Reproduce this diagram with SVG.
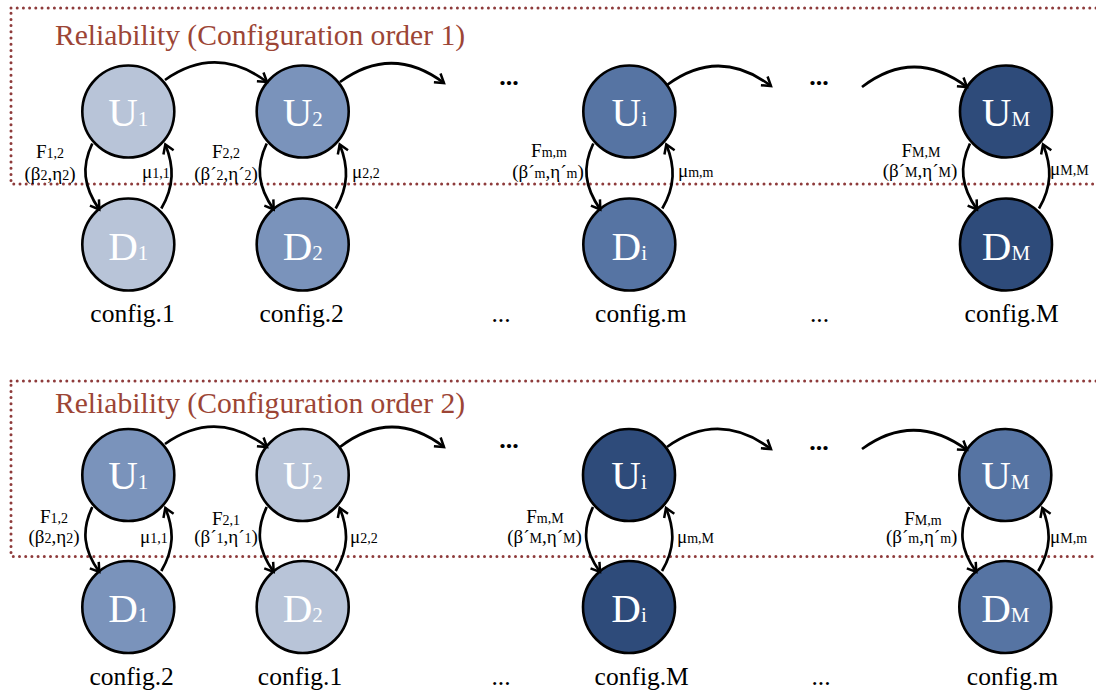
<svg xmlns="http://www.w3.org/2000/svg" width="1096" height="698" viewBox="0 0 1096 698">
<defs>
<style>
text{font-family:"Liberation Serif","Times New Roman",serif;}
.box{fill:none;stroke:#8E3B3B;stroke-width:3;stroke-linecap:round;stroke-dasharray:0 6.2;}
.title{font-size:29.6px;fill:#9C4535;}
.n circle{stroke:#000;stroke-width:2.6;}
.n text{font-size:41px;fill:#fff;text-anchor:middle;}
.n tspan{font-size:21px;}
.c1{fill:#B8C4D8;}
.c2{fill:#7A93BB;}
.c3{fill:#5674A3;}
.c4{fill:#2E4B7A;}
.lbl{font-size:19px;fill:#000;}
.lbl tspan.s{font-size:14px;}
.mid{text-anchor:middle;}
.cfg{font-size:25.5px;fill:#000;text-anchor:middle;}
.dots{font-size:26px;font-weight:bold;fill:#000;text-anchor:middle;}
.edge{fill:none;stroke:#000;stroke-width:2.7;marker-end:url(#ah);}
</style>
<marker id="ah" markerUnits="userSpaceOnUse" markerWidth="14" markerHeight="14" refX="0" refY="0" viewBox="-10 -7 12 14" orient="auto">
<path d="M-8.5,-5.5 L0,0 L-8.5,5.5" fill="none" stroke="#000" stroke-width="2.5" stroke-linejoin="miter"/>
</marker>
</defs>

<g id="section1">
<rect class="box" x="11" y="8" width="1110" height="176"/>
<text class="title" x="55" y="45">Reliability (Configuration order 1)</text>
</g>
<g id="section2">
<rect class="box" x="11" y="381" width="1110" height="175.5"/>
<text class="title" x="55" y="413">Reliability (Configuration order 2)</text>
</g>

<g id="t-U1" class="n"><circle class="c1" cx="128.3" cy="111.5" r="46"/><text x="128.3" y="125.5">U<tspan>1</tspan></text></g>
<g id="t-D1" class="n"><circle class="c1" cx="128.3" cy="244.5" r="46"/><text x="128.3" y="259.5">D<tspan>1</tspan></text></g>
<g id="t-U2" class="n"><circle class="c2" cx="302.7" cy="111.5" r="46"/><text x="302.7" y="125.5">U<tspan>2</tspan></text></g>
<g id="t-D2" class="n"><circle class="c2" cx="302.7" cy="244.5" r="46"/><text x="302.7" y="259.5">D<tspan>2</tspan></text></g>
<g id="t-Ui" class="n"><circle class="c3" cx="629.3" cy="111.5" r="46"/><text x="629.3" y="125.5">U<tspan>i</tspan></text></g>
<g id="t-Di" class="n"><circle class="c3" cx="629.3" cy="244.5" r="46"/><text x="629.3" y="259.5">D<tspan>i</tspan></text></g>
<g id="t-UM" class="n"><circle class="c4" cx="1006" cy="111.5" r="46"/><text x="1006" y="125.5">U<tspan>M</tspan></text></g>
<g id="t-DM" class="n"><circle class="c4" cx="1006" cy="244.5" r="46"/><text x="1006" y="259.5">D<tspan>M</tspan></text></g>

<g id="b-U1" class="n"><circle class="c2" cx="128.3" cy="475" r="46"/><text x="128.3" y="489">U<tspan>1</tspan></text></g>
<g id="b-D1" class="n"><circle class="c2" cx="128.3" cy="607" r="46"/><text x="128.3" y="622">D<tspan>1</tspan></text></g>
<g id="b-U2" class="n"><circle class="c1" cx="302.7" cy="475" r="46"/><text x="302.7" y="489">U<tspan>2</tspan></text></g>
<g id="b-D2" class="n"><circle class="c1" cx="302.7" cy="607" r="46"/><text x="302.7" y="622">D<tspan>2</tspan></text></g>
<g id="b-Ui" class="n"><circle class="c4" cx="629" cy="475" r="46"/><text x="629" y="489">U<tspan>i</tspan></text></g>
<g id="b-Di" class="n"><circle class="c4" cx="629" cy="607" r="46"/><text x="629" y="622">D<tspan>i</tspan></text></g>
<g id="b-UM" class="n"><circle class="c3" cx="1005.3" cy="475" r="46"/><text x="1005.3" y="489">U<tspan>M</tspan></text></g>
<g id="b-DM" class="n"><circle class="c3" cx="1005.3" cy="607" r="46"/><text x="1005.3" y="622">D<tspan>M</tspan></text></g>

<g id="connectors">
<path class="edge" d="M165,80 Q216,44 267,82"/>
<path class="edge" d="M340,82 Q392,44 444,83"/>
<path class="edge" d="M667,85 Q719,46.5 771,86"/>
<path class="edge" d="M862,87 Q914,47 967,87"/>
<path class="edge" d="M165,444 Q216,408 267,447"/>
<path class="edge" d="M340,447 Q392,407 444,447"/>
<path class="edge" d="M667,447 Q719,410 771,449"/>
<path class="edge" d="M862,449 Q914,411 967,450"/>
<path class="edge" d="M92.3,143.5 C81.3,166.5 83.3,186.5 99.3,209.5"/>
<path class="edge" d="M161.3,208.5 C174.3,186.5 174.3,166.5 165.3,144.5"/>
<path class="edge" d="M266.7,143.5 C255.7,166.5 257.7,186.5 273.7,209.5"/>
<path class="edge" d="M335.7,208.5 C348.7,186.5 348.7,166.5 339.7,144.5"/>
<path class="edge" d="M593.3,143.5 C582.3,166.5 584.3,186.5 600.3,209.5"/>
<path class="edge" d="M662.3,208.5 C675.3,186.5 675.3,166.5 666.3,144.5"/>
<path class="edge" d="M970,143.5 C959,166.5 961,186.5 977,209.5"/>
<path class="edge" d="M1039,208.5 C1052,186.5 1052,166.5 1043,144.5"/>
<path class="edge" d="M92.3,507 C81.3,530 83.3,550 99.3,572"/>
<path class="edge" d="M161.3,571 C174.3,549 174.3,530 165.3,508"/>
<path class="edge" d="M266.7,507 C255.7,530 257.7,550 273.7,572"/>
<path class="edge" d="M335.7,571 C348.7,549 348.7,530 339.7,508"/>
<path class="edge" d="M593,507 C582,530 584,550 600,572"/>
<path class="edge" d="M662,571 C675,549 675,530 666,508"/>
<path class="edge" d="M969.3,507 C958.3,530 960.3,550 976.3,572"/>
<path class="edge" d="M1038.3,571 C1051.3,549 1051.3,530 1042.3,508"/>
</g>

<g id="labels-top">
<text class="lbl mid" x="50" y="158">F<tspan class="s">1,2</tspan></text>
<text class="lbl mid" x="50" y="180">(β<tspan class="s">2</tspan>,η<tspan class="s">2</tspan>)</text>
<text class="lbl" x="142" y="178">μ<tspan class="s">1,1</tspan></text>
<text class="lbl mid" x="226" y="158">F<tspan class="s">2,2</tspan></text>
<text class="lbl mid" x="226" y="180">(β´<tspan class="s">2</tspan>,η´<tspan class="s">2</tspan>)</text>
<text class="lbl" x="352" y="178">μ<tspan class="s">2,2</tspan></text>
<text class="lbl mid" x="549" y="157">F<tspan class="s">m,m</tspan></text>
<text class="lbl mid" x="548" y="178">(β´<tspan class="s">m</tspan>,η´<tspan class="s">m</tspan>)</text>
<text class="lbl" x="678" y="177">μ<tspan class="s">m,m</tspan></text>
<text class="lbl mid" x="921" y="157">F<tspan class="s">M,M</tspan></text>
<text class="lbl mid" x="920" y="177">(β´<tspan class="s">M</tspan>,η´<tspan class="s">M</tspan>)</text>
<text class="lbl" x="1050" y="175">μ<tspan class="s">M,M</tspan></text>
</g>
<g id="labels-bottom">
<text class="lbl mid" x="54" y="523">F<tspan class="s">1,2</tspan></text>
<text class="lbl mid" x="54" y="543">(β<tspan class="s">2</tspan>,η<tspan class="s">2</tspan>)</text>
<text class="lbl" x="140" y="543">μ<tspan class="s">1,1</tspan></text>
<text class="lbl mid" x="226" y="525">F<tspan class="s">2,1</tspan></text>
<text class="lbl mid" x="226" y="543">(β´<tspan class="s">1</tspan>,η´<tspan class="s">1</tspan>)</text>
<text class="lbl" x="350" y="543">μ<tspan class="s">2,2</tspan></text>
<text class="lbl mid" x="545" y="523">F<tspan class="s">m,M</tspan></text>
<text class="lbl mid" x="544.5" y="543">(β´<tspan class="s">M</tspan>,η´<tspan class="s">M</tspan>)</text>
<text class="lbl" x="677" y="543">μ<tspan class="s">m,M</tspan></text>
<text class="lbl mid" x="923" y="525">F<tspan class="s">M,m</tspan></text>
<text class="lbl mid" x="921.7" y="543">(β´<tspan class="s">m</tspan>,η´<tspan class="s">m</tspan>)</text>
<text class="lbl" x="1050" y="543">μ<tspan class="s">M,m</tspan></text>
</g>

<g id="config-top">
<text class="cfg" x="132.5" y="322">config.1</text>
<text class="cfg" x="301.7" y="322">config.2</text>
<text class="cfg" x="501" y="322">...</text>
<text class="cfg" x="640.8" y="322">config.m</text>
<text class="cfg" x="819.5" y="322">...</text>
<text class="cfg" x="1011.7" y="322">config.M</text>
<text class="dots" x="509" y="84.5">...</text>
<text class="dots" x="819" y="84.5">...</text>
</g>
<g id="config-bottom">
<text class="cfg" x="131.7" y="685">config.2</text>
<text class="cfg" x="300" y="685">config.1</text>
<text class="cfg" x="501" y="685">...</text>
<text class="cfg" x="641.7" y="685">config.M</text>
<text class="cfg" x="821" y="685">...</text>
<text class="cfg" x="1012.5" y="685">config.m</text>
<text class="dots" x="509" y="447.5">...</text>
<text class="dots" x="819" y="449.5">...</text>
</g>
</svg>
